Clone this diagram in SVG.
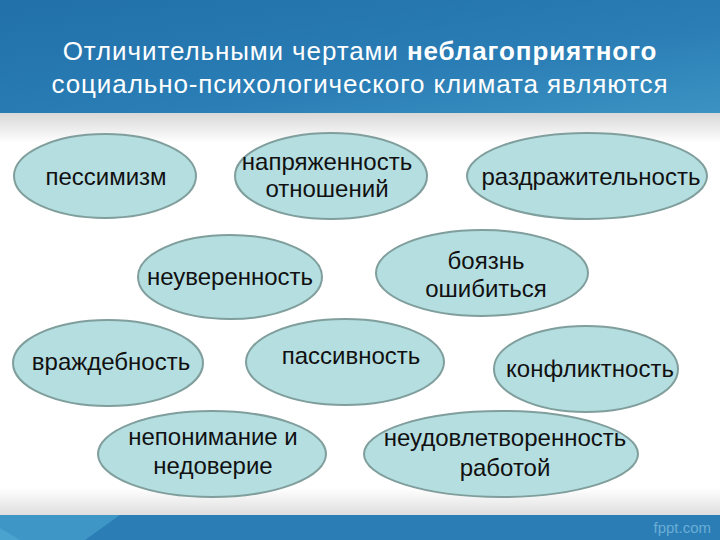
<svg xmlns="http://www.w3.org/2000/svg" width="720" height="540" viewBox="0 0 720 540">
<defs>
<linearGradient id="hdr" x1="0" y1="0" x2="1" y2="1">
<stop offset="0" stop-color="#2170a9"/>
<stop offset="0.6" stop-color="#2a7db5"/>
<stop offset="1" stop-color="#3b93c2"/>
</linearGradient>
<linearGradient id="topShade" x1="0" y1="0" x2="0" y2="1">
<stop offset="0" stop-color="#d8d8d8"/>
<stop offset="1" stop-color="#ffffff"/>
</linearGradient>
<linearGradient id="botShade" x1="0" y1="0" x2="0" y2="1">
<stop offset="0" stop-color="#ffffff"/>
<stop offset="1" stop-color="#dedede"/>
</linearGradient>
<style>
.node ellipse{fill:#b5dee1;stroke:#7f9e9c;stroke-width:2}
.node text{font-family:"Liberation Sans",Arial,sans-serif;font-size:24px;fill:#111;text-anchor:middle}
.title{font-family:"Liberation Sans",Arial,sans-serif;font-size:26px;letter-spacing:0.9px;fill:#ffffff;text-anchor:middle}
</style>
</defs>
<rect x="0" y="0" width="720" height="540" fill="#ffffff"/>
<rect x="0" y="113" width="720" height="30" fill="url(#topShade)"/>
<rect x="0" y="488" width="720" height="27" fill="url(#botShade)"/>
<rect x="0" y="0" width="720" height="113" fill="url(#hdr)"/>
<g id="footer">
<rect x="0" y="515" width="720" height="25" fill="#2a7db5"/>
<polygon points="0,515 120,515 85,540 0,540" fill="#3d96c6"/>
<polygon points="0,528 20,540 0,540" fill="#4aa2cf"/>
<text x="711" y="533" font-family="Liberation Sans,Arial,sans-serif" font-size="15" fill="#6aaed6" text-anchor="end">fppt.com</text>
</g>
<g id="title">
<text class="title" x="360" y="60">Отличительными чертами <tspan font-weight="bold">неблагоприятного</tspan></text>
<text class="title" x="360" y="93">социально-психологического климата являются</text>
</g>
<g id="connectors"/>
<g id="n1" class="node"><ellipse cx="105" cy="176" rx="91" ry="42"/><text x="106" y="185">пессимизм</text></g>
<g id="n2" class="node"><ellipse cx="331" cy="176" rx="96" ry="43"/><text x="327" y="170">напряженность</text><text x="327" y="197">отношений</text></g>
<g id="n3" class="node"><ellipse cx="587" cy="176" rx="120" ry="43"/><text x="591" y="185">раздражительность</text></g>
<g id="n4" class="node"><ellipse cx="230" cy="277" rx="92" ry="42"/><text x="230" y="285">неуверенность</text></g>
<g id="n5" class="node"><ellipse cx="482" cy="273" rx="106" ry="43"/><text x="486" y="269">боязнь</text><text x="486" y="297">ошибиться</text></g>
<g id="n6" class="node"><ellipse cx="108" cy="363" rx="95" ry="43"/><text x="111" y="370">враждебность</text></g>
<g id="n7" class="node"><ellipse cx="345" cy="362" rx="99" ry="43"/><text x="351" y="364">пассивность</text></g>
<g id="n8" class="node"><ellipse cx="586" cy="369" rx="92" ry="43"/><text x="590" y="377">конфликтность</text></g>
<g id="n9" class="node"><ellipse cx="212" cy="454" rx="114" ry="43"/><text x="213" y="445">непонимание и</text><text x="213" y="474">недоверие</text></g>
<g id="n10" class="node"><ellipse cx="501" cy="454" rx="137" ry="43"/><text x="505" y="446">неудовлетворенность</text><text x="505" y="476">работой</text></g>
</svg>
